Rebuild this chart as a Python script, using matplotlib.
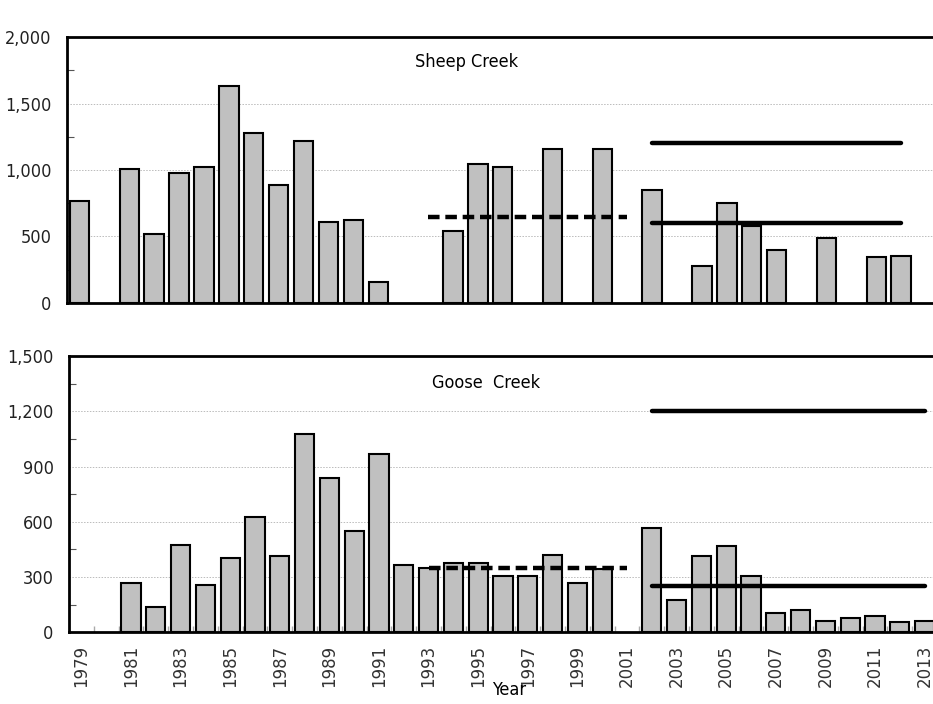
import numpy as np
import matplotlib
matplotlib.use("Agg")
import matplotlib.pyplot as plt
from matplotlib import font_manager
from matplotlib.ticker import FuncFormatter, MultipleLocator, FixedLocator

years = list(range(1979, 2014))
nan = np.nan
sheep = [770, nan, 1010, 520, 975, 1020, 1630, 1280, 890, 1215, 610, 625, 155,
         nan, nan, 540, 1045, 1025, nan, 1160, nan, 1160, nan, 850, nan, 280,
         755, 575, 395, nan, 490, nan, 345, 355, nan]
goose = [nan, nan, 265, 140, 475, 258, 403, 625, 415, 1075, 835, 550, 968, 368,
         348, 375, 375, 308, 308, 418, 265, 345, nan, 565, 178, 415, 468, 305,
         105, 120, 63, 80, 87, 57, 63]

# reference lines: (start year, end year, value, style)
sheep_lines = [(1993, 2001, 645, "dashed"), (2002, 2012, 1200, "solid"), (2002, 2012, 600, "solid")]
goose_lines = [(1993, 2001, 350, "dashed"), (2002, 2013, 1200, "solid"), (2002, 2013, 250, "solid")]

# pick a narrow font if available
names = {f.name for f in font_manager.fontManager.ttflist}
stretches = {(f.name, f.stretch) for f in font_manager.fontManager.ttflist}
if "Liberation Sans Narrow" in names:
    NFONT = dict(family=["Liberation Sans Narrow", "DejaVu Sans"], size=14.5)
elif any(n == "DejaVu Sans" and s == "condensed" for n, s in stretches):
    NFONT = dict(family=["DejaVu Sans"], stretch="condensed", size=13)
else:
    NFONT = dict(family=["Liberation Sans", "DejaVu Sans"], size=12.5)

def apply_font(t):
    t.set_family(NFONT["family"])
    t.set_fontsize(NFONT["size"])
    if "stretch" in NFONT:
        t.set_stretch(NFONT["stretch"])

W, H = 933, 704
fig = plt.figure(figsize=(W / 100, H / 100), dpi=100)

def make_ax(rect, vals, lines, ymax, major, title, title_xy, show_x):
    ax = fig.add_axes(rect)
    x = np.arange(len(years))
    v = np.array(vals, dtype=float)
    m = ~np.isnan(v)
    ax.bar(x[m], v[m], width=0.78, color="#C0C0C0", edgecolor="black", linewidth=1.5, zorder=2)
    for (y0, y1, val, st) in lines:
        i0, i1 = years.index(y0), years.index(y1)
        if st == "dashed":
            ax.plot([i0, i1], [val, val], color="black", lw=3.2, dashes=(2.6, 1.3), zorder=3)
        else:
            ax.plot([i0, i1], [val, val], color="black", lw=3.2, solid_capstyle="round", zorder=3)
    ax.set_xlim(-0.5, len(years) - 0.5)
    ax.set_ylim(0, ymax)
    ax.yaxis.set_major_locator(MultipleLocator(major))
    ax.yaxis.set_minor_locator(MultipleLocator(major / 2))
    ax.yaxis.set_major_formatter(FuncFormatter(lambda v, p: f"{int(v):,}"))
    ax.grid(axis="y", which="major", color="#BBBBBB", linestyle=(0, (1.5, 1.5)), linewidth=0.7, zorder=0)
    ax.set_axisbelow(True)
    ax.tick_params(axis="y", which="major", length=0, pad=11)
    ax.tick_params(axis="y", which="minor", length=5, direction="in", width=0.8, color="#555555")
    for lab in ax.get_yticklabels():
        apply_font(lab)
        lab.set_color("#222222")
    for s in ["left", "top", "bottom", "right"]:
        ax.spines[s].set_linewidth(2)
        ax.spines[s].set_color("black")
    if show_x:
        ax.xaxis.set_major_locator(FixedLocator(x[::2]))
        ax.set_xticklabels([str(y) for y in years[::2]], rotation=90, fontsize=12,
                           family="DejaVu Sans", color="#333333")
        ax.xaxis.set_minor_locator(FixedLocator(x[:-1] + 0.5))
        ax.tick_params(axis="x", which="major", length=0, pad=9)
        ax.tick_params(axis="x", which="minor", length=4, direction="in", color="#AAAAAA", width=1)
    else:
        ax.set_xticks([])
    t = fig.text(title_xy[0] / W, 1 - title_xy[1] / H, title, ha="center", va="center")
    apply_font(t)
    return ax

ax1 = make_ax([67 / W, 1 - 302.7 / H, 871.5 / W, (302.7 - 37.3) / H], sheep, sheep_lines,
              2000, 500, "Sheep Creek", (467, 62), False)
ax2 = make_ax([69 / W, 1 - 632.3 / H, 868 / W, (632.3 - 356) / H], goose, goose_lines,
              1500, 300, "Goose  Creek", (486, 383), True)

t = fig.text(509 / W, 1 - 690 / H, "Year", ha="center", va="center")
apply_font(t)

fig.savefig("out.png", dpi=100)
